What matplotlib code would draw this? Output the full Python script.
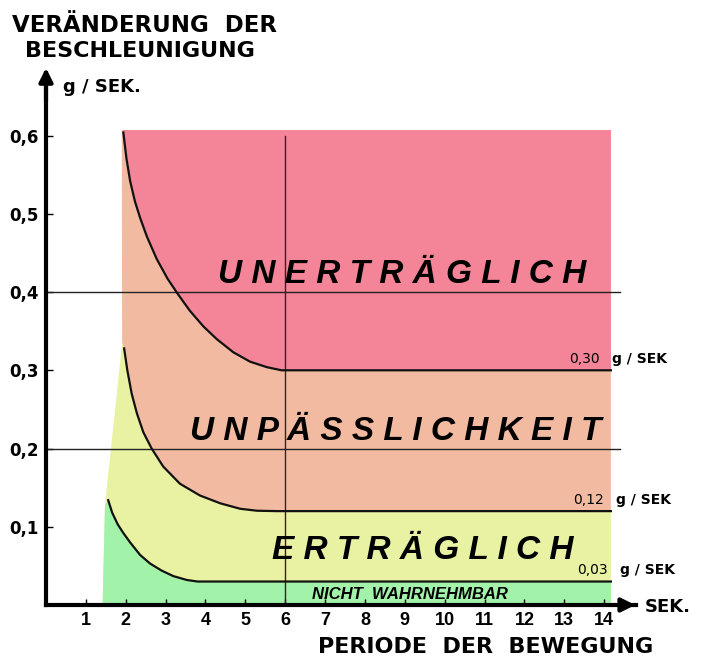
import matplotlib.pyplot as plt

plt.rcParams['font.family'] = ['Liberation Sans', 'DejaVu Sans']

# Grenzkurven: Periode (s) -> Beschleunigung (g)
top_x = [1.94, 2.02, 2.11, 2.23, 2.36, 2.53, 2.78, 3.05, 3.30, 3.61, 3.95, 4.28, 4.70, 5.12, 5.54, 5.91]
top_y = [0.604, 0.570, 0.542, 0.516, 0.495, 0.471, 0.442, 0.417, 0.398, 0.376, 0.356, 0.340, 0.323, 0.311, 0.304, 0.300]

mid_x = [1.96, 2.04, 2.15, 2.28, 2.44, 2.65, 2.94, 3.36, 3.86, 4.37, 4.87, 5.29, 5.79]
mid_y = [0.328, 0.300, 0.270, 0.245, 0.221, 0.200, 0.177, 0.155, 0.140, 0.130, 0.123, 0.1205, 0.120]

low_x = [1.56, 1.66, 1.80, 1.94, 2.11, 2.36, 2.61, 2.90, 3.19, 3.53, 3.80]
low_y = [0.134, 0.118, 0.103, 0.092, 0.080, 0.064, 0.053, 0.044, 0.037, 0.032, 0.030]

levels = [0.03, 0.12, 0.30]
level_labels = ['0,03', '0,12', '0,30']

# linke Kante der Farbflaechen
edge_x = [1.42, 1.48, 1.91, 1.90]
edge_y = [0.0, 0.128, 0.335, 0.607]
x_right = 14.17
y_top = 0.607

zones = ['UNERTRÄGLICH', 'UNPÄSSLICHKEIT', 'ERTRÄGLICH']
x_ticks = list(range(1, 15))
y_ticks = [0.1, 0.2, 0.3, 0.4, 0.5, 0.6]
y_ticklabels = ['0,1', '0,2', '0,3', '0,4', '0,5', '0,6']

c_pink = '#F48598'
c_salmon = '#F2BBA1'
c_yellow = '#E8F2A2'
c_green = '#A3F2A9'

wide = ['DejaVu Sans']

fig = plt.figure(figsize=(7.1, 6.7), dpi=100)
ax = fig.add_axes([46 / 710, 65 / 670, 590 / 710, 532 / 670])
ax.set_xlim(0, 14.8)
ax.set_ylim(0, 0.68)

# Flaechen
tx = top_x + [x_right]
ty = top_y + [levels[2]]
mx = mid_x + [x_right]
my = mid_y + [levels[1]]
lx = low_x + [x_right]
ly = low_y + [levels[0]]

ax.fill([edge_x[2], edge_x[3], x_right] + mx[::-1],
        [edge_y[2], edge_y[3], y_top] + my[::-1], color=c_salmon, lw=0)
ax.fill(tx + [x_right, tx[0]], ty + [y_top, y_top], color=c_pink, lw=0)
ax.fill(edge_x[:3] + mx + [x_right], edge_y[:3] + my + [0], color=c_yellow, lw=0)
ax.fill(edge_x[:2] + lx + [x_right], edge_y[:2] + ly + [0], color=c_green, lw=0)

# Gitterlinien
for yv in [0.2, 0.4]:
    ax.plot([0, 14.4], [yv, yv], color='#222222', lw=1)
ax.plot([6, 6], [0, 0.6], color='#3a2020', lw=1)

# Kurven
for cx, cy in [(tx, ty), (mx, my), (lx, ly)]:
    ax.plot(cx, cy, color='#111111', lw=1.6, solid_joinstyle='round')

# Achsen
for s in ['top', 'right']:
    ax.spines[s].set_visible(False)
for s in ['left', 'bottom']:
    ax.spines[s].set_linewidth(3)
ax.annotate('', xy=(14.85, 0), xytext=(14.3, 0),
            arrowprops=dict(arrowstyle='-|>', color='k', lw=3, mutation_scale=20),
            annotation_clip=False)
ax.annotate('', xy=(0, 0.69), xytext=(0, 0.64),
            arrowprops=dict(arrowstyle='-|>', color='k', lw=3, mutation_scale=20),
            annotation_clip=False)

ax.set_xticks(x_ticks)
ax.set_xticklabels([str(v) for v in x_ticks], fontweight='bold', fontsize=13)
ax.set_yticks(y_ticks)
ax.set_yticklabels(y_ticklabels, fontweight='bold', fontsize=12, family=wide)
ax.tick_params(axis='x', direction='in', length=4, width=1, pad=5)
ax.tick_params(axis='y', direction='in', length=5, width=1, pad=5)

# Zonenbeschriftung
zone_pos = [(4.32, 0.411), (3.61, 0.211), (5.67, 0.059)]
for name, (zx, zy) in zip(zones, zone_pos):
    ax.text(zx, zy, ' '.join(name), fontsize=24, fontweight='bold',
            fontstyle='italic', ha='left', va='baseline')
ax.text(6.67, 0.008, 'NICHT  WAHRNEHMBAR', fontsize=12, fontweight='bold',
        fontstyle='italic', ha='left', va='baseline')

lab_x = [13.32, 13.22, 13.12]
for lv, lt, lxx in zip(levels, level_labels, lab_x):
    ax.text(lxx, lv + 0.0095, lt, fontsize=10, family=wide, ha='left', va='baseline')
    ax.text(lxx + 1.08, lv + 0.0095, 'g / SEK', fontsize=10, fontweight='bold',
            family=wide, ha='left', va='baseline', clip_on=False)

# Titel und Achsentitel
fig.text(12 / 710, 1 - 32 / 670, 'VERÄNDERUNG  DER', fontsize=16.5, fontweight='bold',
         family=wide, va='baseline')
fig.text(25 / 710, 1 - 57 / 670, 'BESCHLEUNIGUNG', fontsize=16, fontweight='bold',
         family=wide, va='baseline')
fig.text(63 / 710, 1 - 92 / 670, 'g / SEK.', fontsize=13, fontweight='bold',
         family=wide, va='baseline')
fig.text(645 / 710, 1 - 612 / 670, 'SEK.', fontsize=13, fontweight='bold',
         family=wide, va='baseline')
fig.text(318 / 710, 1 - 653 / 670, 'PERIODE  DER  BEWEGUNG', fontsize=16, fontweight='bold',
         family=wide, va='baseline')

fig.savefig('out.png', dpi=100)
